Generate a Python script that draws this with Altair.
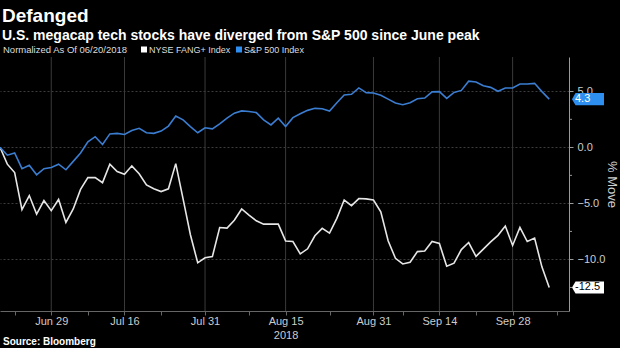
import altair as alt
import pandas as pd

# ---- data (trading-day index from 06/20/2018) ----
day_index = list(range(76))
fang = [0, -1.5, -2.25, -5.55, -4.3, -5.95, -4.75, -5.65, -4.65, -6.7,
        -5.5, -3.75, -2.7, -2.7, -3.15, -1.5, -2.15, -2.4, -1.65, -2.35,
        -3.35, -3.7, -3.95, -3.7, -1.45, -4.6, -7.8, -10.3, -9.85, -9.75,
        -7.15, -7.2, -6.5, -5.5, -6.05, -6.55, -6.85, -6.85, -6.85, -8.35,
        -8.4, -9.5, -9.05, -7.89, -7.23, -7.65, -6.34, -4.7, -5.2, -4.57,
        -4.6, -4.7, -5.75, -8.33, -9.9, -10.4, -10.25, -9.3, -9.25, -8.4,
        -8.58, -10.6, -10.33, -9.12, -8.49, -9.73, -9.08, -8.43, -7.85, -7.02,
        -8.75, -7.14, -8.4, -8.1, -10.66, -12.5]
spx = [0, -0.7, -0.5, -1.9, -1.6, -2.45, -1.9, -1.8, -1.5, -2.0,
       -1.25, -0.5, 0.5, 0.95, 0.25, 1.2, 1.25, 1.15, 1.5, 1.7,
       1.3, 1.25, 1.45, 1.9, 2.8, 2.45, 1.85, 1.3, 1.75, 1.65,
       2.1, 2.6, 3.05, 3.25, 3.2, 3.1, 2.45, 2.0, 2.6, 1.85,
       2.65, 3.0, 3.3, 3.48, 3.45, 3.24, 3.98, 4.67, 4.73, 5.3,
       4.88, 4.85, 4.65, 4.3, 3.95, 3.8, 3.98, 4.33, 4.4, 4.95,
       4.97, 4.37, 4.9, 5.08, 5.9, 5.83, 5.5, 5.35, 5.0, 5.3,
       5.3, 5.65, 5.65, 5.71, 4.97, 4.3]
series_names = ["NYSE FANG+ Index", "S&P 500 Index"]
series_colors = ["#e6e6e6", "#3a7dd1"]
badge_fill = ["#ffffff", "#2f8ff0"]
badge_text = ["#000000", "#ffffff"]

tick_index = [7, 17, 28, 39, 51, 60, 70]
tick_labels = ["Jun 29", "Jul 16", "Jul 31", "Aug 15", "Aug 31", "Sep 14", "Sep 28"]
year_label = "2018"
year_tick = 39
minor_tick_index = [2, 12, 22, 34, 45, 55, 65, 76]
y_ticks = [-10, -5, 0, 5]
y_minor_ticks = [-12.5, -7.5, -2.5, 2.5]

title_text = "Defanged"
subtitle_text = "U.S. megacap tech stocks have diverged from S&P 500 since June peak"
norm_text = "Normalized As Of 06/20/2018"
source_text = "Source: Bloomberg"
y_title = "% Move"

# ---- layout ----
W, H = 569, 254
PAD_TOP, PAD_LEFT = 57, 0
FONT = "Liberation Sans, Arial, sans-serif"
x_scale = alt.Scale(domain=[0, 77.7], nice=False, zero=False)
y_scale = alt.Scale(domain=[-14.6, 8.06], nice=False, zero=False)

expr = "''"
for idx, lab in reversed(list(zip(tick_index, tick_labels))):
    if idx == year_tick:
        val = f"['{lab}', '{year_label}']"
    else:
        val = f"'{lab}'"
    expr = f"datum.value == {idx} ? {val} : {expr}"

x_axis = alt.Axis(values=sorted(tick_index + minor_tick_index), labelExpr=expr,
                  grid=False, domainColor="#666666", tickColor="#666666", tickSize=4,
                  labelColor="#cccccc", labelFontSize=11, labelFont=FONT, labelPadding=0,
                  labelLineHeight=14, labelOverlap=False, labelFlush=False, title=None)
y_axis = alt.Axis(orient="right", values=y_ticks, format=".1f", grid=True,
                  gridColor="#3c3c3c", gridDash=[2, 2], domainColor="#9a9a9a",
                  tickColor="#9a9a9a", tickSize=4, labelPadding=4, labelColor="#cccccc",
                  labelFontSize=11, labelFont=FONT, title=y_title, titleColor="#cccccc",
                  titleFont=FONT, titleFontSize=13, titleFontWeight="normal", titleAngle=90,
                  titleX=42, titleY=H / 2, titleAlign="center", titleBaseline="middle")


def X(field):
    return alt.X(field, type="quantitative", scale=x_scale, axis=x_axis)


def Y(field):
    return alt.Y(field, type="quantitative", scale=y_scale, axis=y_axis)


df = pd.DataFrame({
    "idx": day_index * 2,
    "value": fang + spx,
    "series": [series_names[0]] * len(fang) + [series_names[1]] * len(spx),
})

grid_v = alt.Chart(pd.DataFrame({"pos": tick_index})).mark_rule(
    color="#3a3a3a", strokeWidth=1).encode(x=X("pos"))

y_minor = alt.Chart(pd.DataFrame({"v": y_minor_ticks})).mark_rule(
    color="#9a9a9a", strokeWidth=1).encode(
    y=Y("v"), x=alt.value(W), x2=alt.value(W + 3))

lines = alt.Chart(df).mark_line(strokeWidth=1.6).encode(
    x=X("idx"), y=Y("value"),
    color=alt.Color("series:N", scale=alt.Scale(domain=series_names, range=series_colors),
                    legend=None),
    order="idx:Q")

badge_path = "M-1,0 L-0.78,-0.38 L1,-0.38 L1,0.38 L-0.78,0.38 Z"
badges = []
for name, vals, bf, bt in zip(series_names, [fang, spx], badge_fill, badge_text):
    bdf = pd.DataFrame({"value": [vals[-1]], "label": [f"{vals[-1]:.1f}"]})
    badges.append(alt.Chart(bdf).mark_point(shape=badge_path, size=1024, filled=True,
                                            fill=bf, opacity=1, strokeWidth=0).encode(
        x=alt.value(W + 19), y=Y("value")))
    badges.append(alt.Chart(bdf).mark_text(align="left", baseline="middle", fontSize=11,
                                           font=FONT, color=bt).encode(
        x=alt.value(W + 6), y=Y("value"), text="label:N"))


def header(text, x, y, size, weight="normal", color="#ffffff"):
    return alt.Chart(pd.DataFrame({"t": [text]})).mark_text(
        align="left", baseline="alphabetic", fontSize=size, fontWeight=weight,
        font=FONT, color=color).encode(x=alt.value(x), y=alt.value(y), text="t:N")


texts = [
    header(title_text, 2, 22 - PAD_TOP, 19, "bold"),
    header(subtitle_text, 2, 40 - PAD_TOP, 14, "bold"),
    header(norm_text, 3, 53 - PAD_TOP, 9.5, color="#dddddd"),
    header(series_names[0], 149, 53 - PAD_TOP, 9, color="#dddddd"),
    header(series_names[1], 244, 53 - PAD_TOP, 9, color="#dddddd"),
    header(source_text, 3, 345 - PAD_TOP, 10, "bold"),
]
sq = alt.Chart(pd.DataFrame({"s": series_names, "px": [144, 239]})).mark_square(
    size=36, opacity=1).encode(
    x=alt.X("px:Q", scale=None), y=alt.value(49.5 - PAD_TOP),
    fill=alt.Fill("s:N", scale=alt.Scale(domain=series_names, range=["#ffffff", "#2f8ff0"]),
                  legend=None))

chart = alt.layer(grid_v, y_minor, lines, *badges, *texts, sq).properties(
    width=W, height=H,
    autosize=alt.AutoSizeParams(type="none"),
    padding={"left": PAD_LEFT, "top": PAD_TOP, "right": 620 - W - PAD_LEFT,
             "bottom": 348 - H - PAD_TOP},
    background="#000000",
).configure_view(stroke=None)

chart.save("out.html", embed_options={"renderer": "svg", "actions": False})
